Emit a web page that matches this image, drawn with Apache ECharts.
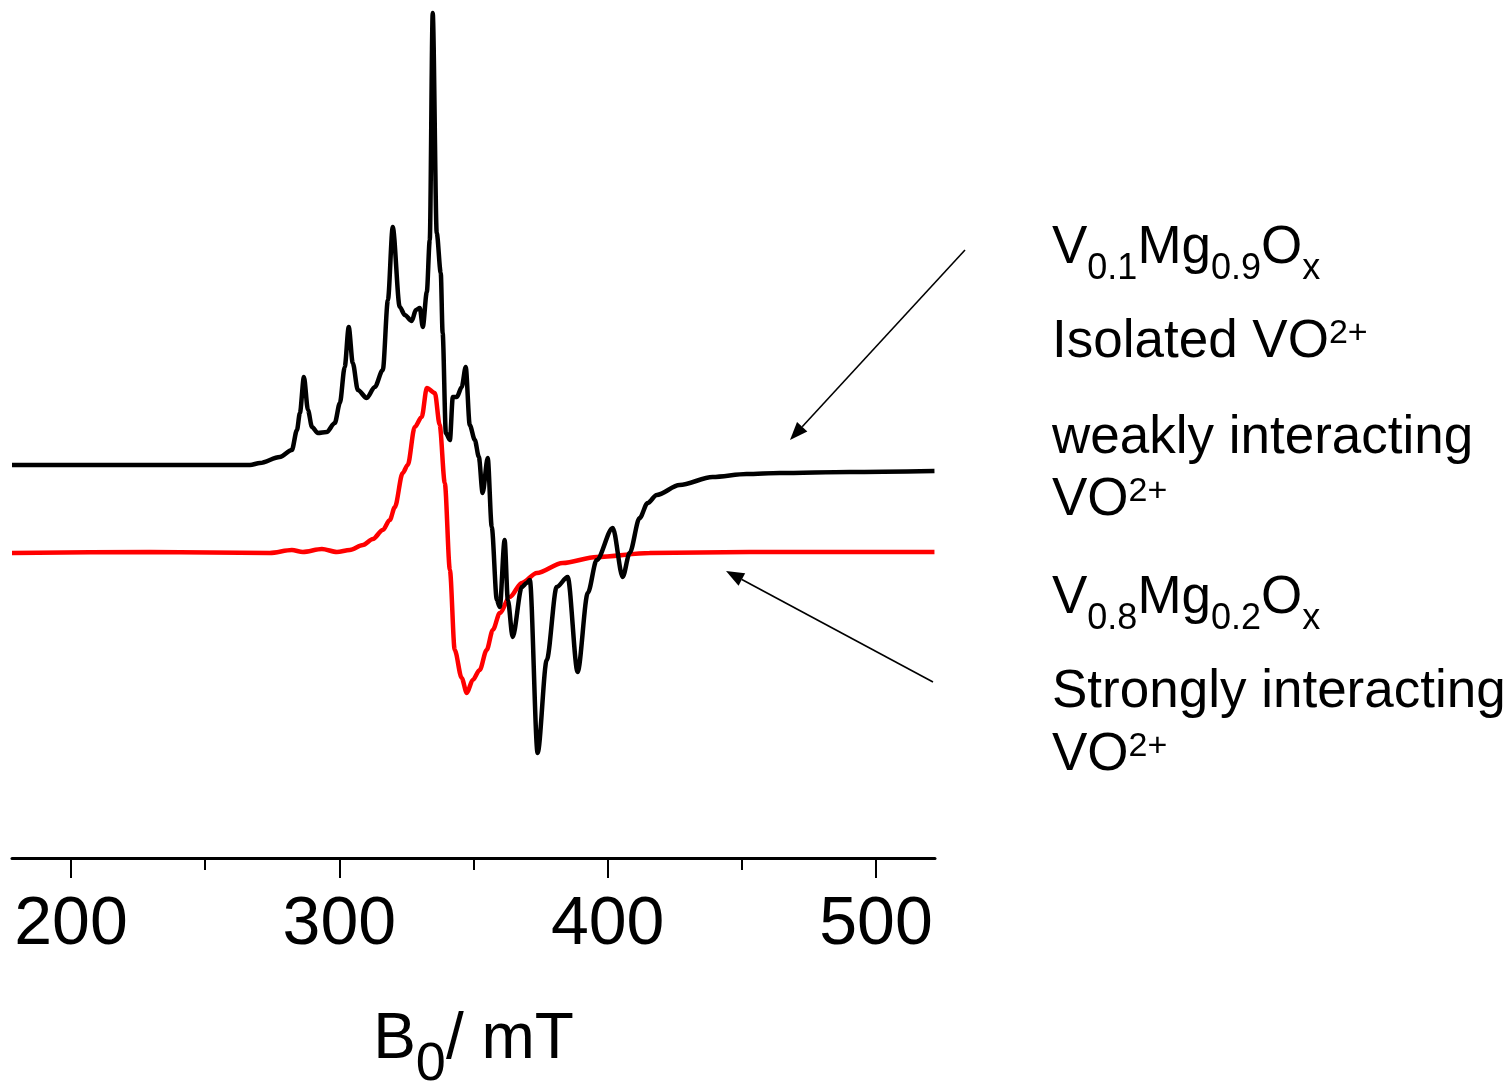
<!DOCTYPE html>
<html>
<head>
<meta charset="utf-8">
<script src="https://cdn.jsdelivr.net/npm/echarts@6/dist/echarts.min.js"></script>
<style>
  html, body { margin: 0; padding: 0; background: #fff; }
  #main { width: 1510px; height: 1082px; }
</style>
</head>
<body>
<div id="main"></div>
<script>
// 磁场 B0 (mT) 与强度 (a.u.)
const blackB = [178.0, 266.7, 270.4, 277.8, 282.3, 284.2, 285.3, 286.8, 288.3, 289.8,
  292.0, 295.3, 298.3, 300.2, 302.0, 303.5, 305.0, 306.9, 310.2, 313.2,
  316.2, 318.1, 319.9, 322.5, 324.4, 327.0, 328.5, 330.0, 331.1, 332.6,
  333.7, 334.8, 336.3, 337.8, 338.5, 339.7, 341.2, 342.3, 343.8, 345.6,
  347.1, 348.6, 350.5, 352.0, 353.4, 355.3, 356.8, 358.7, 359.8, 361.6,
  362.8, 364.6, 368.0, 369.8, 371.0, 373.9, 377.3, 381.0, 385.1, 388.8,
  392.6, 395.9, 401.9, 405.6, 408.2, 411.9, 414.9, 418.3, 426.8, 439.1,
  451.8, 464.1, 490.1, 521.8];
const blackI = [393, 393, 395, 401, 408, 428, 445, 481, 448, 431,
  425, 426, 435, 455, 491, 531, 495, 468, 460, 471,
  488, 558, 631, 551, 543, 537, 548, 550, 531, 566,
  618, 845, 625, 585, 525, 425, 418, 461, 461, 471,
  491, 433, 418, 401, 365, 400, 331, 258, 251, 318,
  258, 221, 271, 275, 278, 105, 198, 271, 281, 186,
  265, 298, 330, 281, 305, 340, 355, 363, 373, 381,
  384, 385, 386, 387];

const redB = [178.0, 229.4, 274.1, 282.3, 286.4, 293.5, 299.1, 303.9, 308.8, 312.5,
  316.2, 318.8, 320.7, 323.6, 325.5, 328.1, 330.7, 332.6, 335.6, 337.4,
  339.3, 341.2, 343.0, 345.6, 347.5, 349.7, 352.3, 354.9, 357.2, 359.8,
  363.5, 368.0, 373.6, 383.2, 395.9, 415.6, 452.9, 521.8];
const redI = [305, 306, 305, 308, 306, 309, 306, 308, 313, 319,
  328, 338, 351, 385, 393, 431, 441, 470, 465, 433,
  375, 288, 208, 180, 165, 178, 188, 208, 228, 245,
  261, 275, 285, 295, 301, 305, 306, 306];

const majorTicks = [200, 300, 400, 500];
const minorTicks = [250, 350, 450];

// 右侧注释文字（rich 格式）
const noteTexts = [
  '{n|V}{sub|0.1}{n|Mg}{sub|0.9}{n|O}{sub|x}',
  '{n|Isolated VO}{sup|2+}',
  '{n|weakly interacting}',
  '{n|VO}{sup|2+}',
  '{n|V}{sub|0.8}{n|Mg}{sub|0.2}{n|O}{sub|x}',
  '{n|Strongly interacting}',
  '{n|VO}{sup|2+}'
];
const noteTops = [222, 316, 412, 474, 572, 666, 729];

const FONT = "'Liberation Sans', Arial, sans-serif";

function zip(xs, ys) {
  const out = [];
  for (let i = 0; i < xs.length; i++) out.push([xs[i], ys[i]]);
  return out;
}

const chart = echarts.init(document.getElementById('main'), null, { renderer: 'canvas' });

const richNote = {
  n: { fontSize: 53, lineHeight: 53, verticalAlign: 'top', fontFamily: FONT, color: '#000' },
  sub: { fontSize: 36, lineHeight: 36, verticalAlign: 'top', padding: [29, 0, 0, 0], fontFamily: FONT, color: '#000' },
  sup: { fontSize: 34, lineHeight: 34, verticalAlign: 'top', padding: [1, 0, 0, 0], fontFamily: FONT, color: '#000' }
};

const graphics = noteTexts.map(function (t, i) {
  return {
    type: 'text',
    left: 1052,
    top: noteTops[i],
    style: { text: t, rich: richNote, fill: '#000' }
  };
});

// 箭头
function arrow(x1, y1, x2, y2) {
  const dx = x2 - x1, dy = y2 - y1;
  const len = Math.sqrt(dx * dx + dy * dy);
  const ux = dx / len, uy = dy / len;
  const hl = 18, hw = 7;
  const bx = x2 - ux * hl, by = y2 - uy * hl;
  return [{
    type: 'line',
    shape: { x1: x1, y1: y1, x2: bx, y2: by },
    style: { stroke: '#000', lineWidth: 1.6 }
  }, {
    type: 'polygon',
    shape: { points: [[x2, y2], [bx - uy * hw, by + ux * hw], [bx + uy * hw, by - ux * hw]] },
    style: { fill: '#000' }
  }];
}
graphics.push.apply(graphics, arrow(965, 250, 790, 440));
graphics.push.apply(graphics, arrow(933, 682, 726, 571));

const option = {
  backgroundColor: '#fff',
  animation: false,
  grid: { left: 12, right: 575, top: 10, bottom: 224, containLabel: false, outerBoundsMode: 'none' },
  xAxis: [{
    type: 'value',
    min: 178,
    max: 522,
    position: 'bottom',
    name: '{b|B}{s|0}{b|/ mT}',
    nameLocation: 'middle',
    nameGap: 150,
    nameTextStyle: {
      rich: {
        b: { fontSize: 64, lineHeight: 64, verticalAlign: 'top', fontFamily: FONT, color: '#000' },
        s: { fontSize: 54, lineHeight: 54, verticalAlign: 'top', padding: [30, 0, 0, 0], fontFamily: FONT, color: '#000' }
      }
    },
    axisLine: { show: true, lineStyle: { color: '#000', width: 3 } },
    axisTick: { show: true, inside: false, length: 20, customValues: majorTicks, lineStyle: { color: '#000', width: 2 } },
    axisLabel: {
      show: true, customValues: majorTicks, margin: 33,
      fontSize: 68, lineHeight: 68, fontFamily: FONT, color: '#000'
    },
    splitLine: { show: false }
  }, {
    type: 'value',
    min: 178,
    max: 522,
    position: 'bottom',
    axisLine: { show: false },
    axisTick: { show: true, inside: false, length: 12, customValues: minorTicks, lineStyle: { color: '#000', width: 2 } },
    axisLabel: { show: false },
    splitLine: { show: false }
  }],
  yAxis: {
    type: 'value',
    min: 0,
    max: 848,
    show: false
  },
  series: [{
    name: 'V0.1Mg0.9Ox',
    type: 'line',
    xAxisIndex: 0,
    data: zip(blackB, blackI),
    symbol: 'none',
    smooth: 0.3,
    smoothMonotone: 'x',
    lineStyle: { color: '#000', width: 4.5 },
    z: 3
  }, {
    name: 'V0.8Mg0.2Ox',
    type: 'line',
    xAxisIndex: 0,
    data: zip(redB, redI),
    symbol: 'none',
    smooth: 0.3,
    smoothMonotone: 'x',
    lineStyle: { color: '#ff0000', width: 4.5 },
    z: 2
  }],
  graphic: graphics
};

chart.setOption(option);
</script>
</body>
</html>
